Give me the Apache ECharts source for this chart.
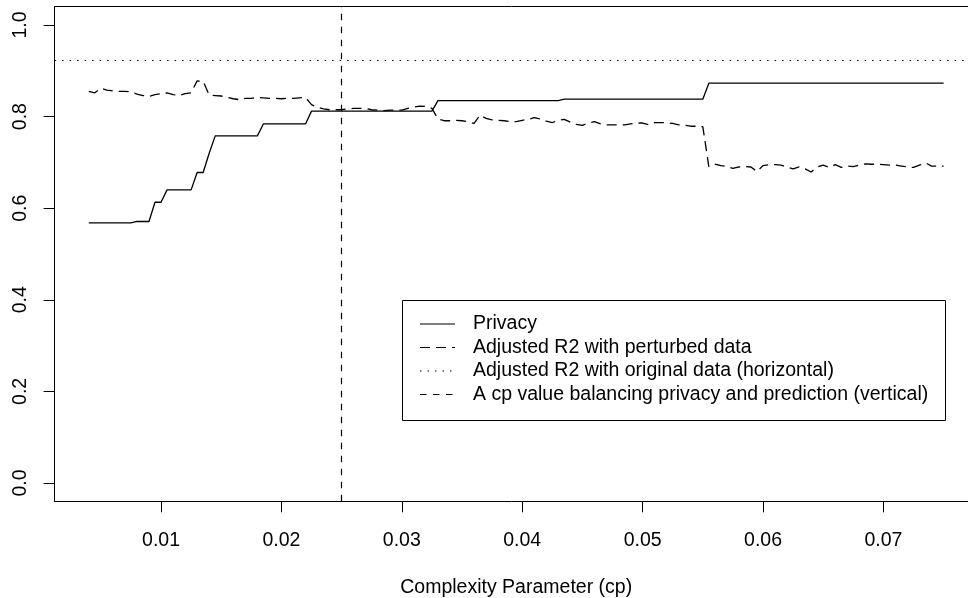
<!DOCTYPE html>
<html>
<head>
<meta charset="utf-8">
<title>Complexity Parameter (cp)</title>
<script src="https://cdn.jsdelivr.net/npm/echarts@6/dist/echarts.min.js"></script>
<style>
  html, body { margin: 0; padding: 0; background: #fff; }
  #chart { width: 968px; height: 598px; }
</style>
</head>
<body>
<div id="chart"></div>
<script>
// cp values at which the tree was evaluated
var cpValues = [
  0.004, 0.0045, 0.005, 0.0055, 0.006, 0.0065, 0.007, 0.0075, 0.008, 0.0085,
  0.009, 0.0095, 0.010, 0.0105, 0.011, 0.0115, 0.012, 0.0125, 0.013, 0.0135,
  0.014, 0.0145, 0.015, 0.0155, 0.016, 0.0165, 0.017, 0.0175, 0.018, 0.0185,
  0.019, 0.0195, 0.020, 0.0205, 0.021, 0.0215, 0.022, 0.0225, 0.023, 0.0235,
  0.024, 0.0245, 0.025, 0.0255, 0.026, 0.0265, 0.027, 0.0275, 0.028, 0.0285,
  0.029, 0.0295, 0.030, 0.0305, 0.031, 0.0315, 0.032, 0.0325, 0.033, 0.0335,
  0.034, 0.0345, 0.035, 0.0355, 0.036, 0.0365, 0.037, 0.0375, 0.038, 0.0385,
  0.039, 0.0395, 0.040, 0.0405, 0.041, 0.0415, 0.042, 0.0425, 0.043, 0.0435,
  0.044, 0.0445, 0.045, 0.0455, 0.046, 0.0465, 0.047, 0.0475, 0.048, 0.0485,
  0.049, 0.0495, 0.050, 0.0505, 0.051, 0.0515, 0.052, 0.0525, 0.053, 0.0535,
  0.054, 0.0545, 0.055, 0.0555, 0.056, 0.0565, 0.057, 0.0575, 0.058, 0.0585,
  0.059, 0.0595, 0.060, 0.0605, 0.061, 0.0615, 0.062, 0.0625, 0.063, 0.0635,
  0.064, 0.0645, 0.065, 0.0655, 0.066, 0.0665, 0.067, 0.0675, 0.068, 0.0685,
  0.069, 0.0695, 0.070, 0.0705, 0.071, 0.0715, 0.072, 0.0725, 0.073, 0.0735,
  0.074, 0.0745, 0.075
];

// privacy
var privacy = [
  0.568, 0.568, 0.568, 0.568, 0.568, 0.568, 0.568, 0.568, 0.571, 0.571,
  0.571, 0.613, 0.613, 0.640, 0.640, 0.640, 0.640, 0.640, 0.678, 0.678,
  0.720, 0.758, 0.758, 0.758, 0.758, 0.758, 0.758, 0.758, 0.758, 0.784,
  0.784, 0.784, 0.784, 0.784, 0.784, 0.784, 0.784, 0.812, 0.812, 0.812,
  0.812, 0.812, 0.812, 0.812, 0.812, 0.812, 0.812, 0.812, 0.812, 0.812,
  0.812, 0.812, 0.812, 0.812, 0.812, 0.812, 0.812, 0.812, 0.835, 0.835,
  0.835, 0.835, 0.835, 0.835, 0.835, 0.835, 0.835, 0.835, 0.835, 0.835,
  0.835, 0.835, 0.835, 0.835, 0.835, 0.835, 0.835, 0.835, 0.835, 0.838,
  0.838, 0.838, 0.838, 0.838, 0.838, 0.838, 0.838, 0.838, 0.838, 0.838,
  0.838, 0.838, 0.838, 0.838, 0.838, 0.838, 0.838, 0.838, 0.838, 0.838,
  0.838, 0.838, 0.838, 0.873, 0.873, 0.873, 0.873, 0.873, 0.873, 0.873,
  0.873, 0.873, 0.873, 0.873, 0.873, 0.873, 0.873, 0.873, 0.873, 0.873,
  0.873, 0.873, 0.873, 0.873, 0.873, 0.873, 0.873, 0.873, 0.873, 0.873,
  0.873, 0.873, 0.873, 0.873, 0.873, 0.873, 0.873, 0.873, 0.873, 0.873,
  0.873, 0.873, 0.873
];

// adjusted R2 with perturbed data
var r2Perturbed = [
  0.855, 0.852, 0.862, 0.858, 0.856, 0.855, 0.855, 0.854, 0.849, 0.846,
  0.844, 0.848, 0.850, 0.852, 0.848, 0.846, 0.850, 0.852, 0.878, 0.877,
  0.847, 0.846, 0.845, 0.842, 0.839, 0.837, 0.840, 0.840, 0.842, 0.841,
  0.840, 0.840, 0.839, 0.840, 0.840, 0.841, 0.842, 0.826, 0.820, 0.817,
  0.815, 0.815, 0.815, 0.817, 0.818, 0.818, 0.818, 0.815, 0.814, 0.813,
  0.814, 0.814, 0.814, 0.818, 0.821, 0.823, 0.822, 0.818, 0.795, 0.791,
  0.791, 0.792, 0.791, 0.789, 0.785, 0.803, 0.796, 0.793, 0.792, 0.791,
  0.789, 0.789, 0.792, 0.794, 0.798, 0.795, 0.790, 0.787, 0.792, 0.794,
  0.788, 0.783, 0.781, 0.786, 0.789, 0.784, 0.782, 0.782, 0.782, 0.782,
  0.784, 0.786, 0.786, 0.782, 0.787, 0.787, 0.787, 0.785, 0.782, 0.781,
  0.779, 0.779, 0.778, 0.691, 0.696, 0.693, 0.691, 0.687, 0.690, 0.691,
  0.690, 0.680, 0.693, 0.695, 0.695, 0.694, 0.690, 0.686, 0.690, 0.686,
  0.679, 0.690, 0.694, 0.689, 0.695, 0.689, 0.692, 0.691, 0.694, 0.697,
  0.696, 0.696, 0.695, 0.694, 0.694, 0.692, 0.690, 0.689, 0.694, 0.699,
  0.692, 0.692, 0.692
];

var r2Original = 0.922;   // horizontal reference
var cpChosen = 0.025;     // vertical reference

var xTicks = [0.01, 0.02, 0.03, 0.04, 0.05, 0.06, 0.07];
var yTicks = [0, 0.2, 0.4, 0.6, 0.8, 1.0];

var legendNames = [
  'Privacy',
  'Adjusted R2 with perturbed data',
  'Adjusted R2 with original data (horizontal)',
  'A cp value balancing privacy and prediction (vertical)'
];

function pairs(xs, ys) {
  var out = [];
  for (var i = 0; i < xs.length; i++) out.push([xs[i], ys[i]]);
  return out;
}

var FONT = '"Liberation Sans", Arial, sans-serif';
var FS = 19.5;
var dashLong = [10, 6];
var dashShort = [6.5, 6.5];
var dotted = [1.5, 6];

var chart = echarts.init(document.getElementById('chart'), null, { renderer: 'canvas' });

// legend drawn by hand, R style box
var lgX = 402, lgY = 300, lgRow = 23.5, lgTop = 324;
var legendDash = [null, dashLong, dotted, dashShort];
var legendGraphics = [{
  type: 'rect',
  shape: { x: lgX + 0.5, y: lgY + 0.5, width: 543, height: 120 },
  style: { fill: '#fff', stroke: '#000', lineWidth: 1 },
  z: 100
}];
for (var i = 0; i < legendNames.length; i++) {
  var yy = lgTop + i * lgRow;
  legendGraphics.push({
    type: 'line',
    shape: { x1: 420, y1: yy, x2: 455, y2: yy },
    style: { stroke: '#000', lineWidth: 1.2, lineDash: legendDash[i] },
    z: 101
  });
  legendGraphics.push({
    type: 'text',
    x: 473, y: yy,
    style: { text: legendNames[i], fill: '#000', font: FS + 'px ' + FONT, verticalAlign: 'middle', align: 'left' },
    z: 101
  });
}

var axisTickStyle = { show: true, length: 11, lineStyle: { color: '#000', width: 1 } };

chart.setOption({
  backgroundColor: '#fff',
  animation: false,
  grid: {
    left: 54.6, top: 6.7, width: 923.2, height: 494.6,
    outerBoundsMode: 'none',
    containLabel: false,
    show: false
  },
  xAxis: [{
    type: 'value',
    position: 'bottom',
    min: 0.00116, max: 0.07784,
    name: 'Complexity Parameter (cp)',
    nameLocation: 'middle',
    nameGap: 76,
    nameTextStyle: { color: '#000', fontSize: FS, fontFamily: FONT },
    axisLine: { show: true, onZero: false, lineStyle: { color: '#000', width: 1 } },
    splitLine: { show: false },
    axisTick: Object.assign({ customValues: xTicks }, axisTickStyle),
    axisLabel: {
      color: '#000', fontSize: FS, fontFamily: FONT, margin: 29,
      customValues: xTicks,
      formatter: function (v) { return v.toFixed(2); }
    }
  }, {
    // top edge of the plot box
    type: 'value',
    position: 'top',
    min: 0.00116, max: 0.07784,
    axisLine: { show: true, onZero: false, lineStyle: { color: '#000', width: 1 } },
    axisTick: { show: false },
    axisLabel: { show: false },
    splitLine: { show: false }
  }],
  yAxis: {
    type: 'value',
    min: -0.04, max: 1.04,
    axisLine: { show: true, onZero: false, lineStyle: { color: '#000', width: 1 } },
    splitLine: { show: false },
    axisTick: Object.assign({ customValues: yTicks }, axisTickStyle),
    axisLabel: {
      color: '#000', fontSize: FS, fontFamily: FONT, margin: 24, rotate: 90,
      customValues: yTicks,
      formatter: function (v) { return v.toFixed(1); }
    }
  },
  series: [
    {
      name: legendNames[0],
      type: 'line',
      data: pairs(cpValues, privacy),
      showSymbol: false,
      lineStyle: { color: '#000', width: 1.3 },
      markLine: {
        silent: true,
        precision: 6,
        symbol: ['none', 'none'],
        label: { show: false },
        data: [
          { yAxis: r2Original, lineStyle: { color: '#000', width: 1, type: dotted } },
          { xAxis: cpChosen, lineStyle: { color: '#000', width: 1.2, type: dashShort } }
        ]
      }
    },
    {
      name: legendNames[1],
      type: 'line',
      data: pairs(cpValues, r2Perturbed),
      showSymbol: false,
      lineStyle: { color: '#000', width: 1.3, type: dashLong }
    }
  ],
  graphic: legendGraphics
});
</script>
</body>
</html>
